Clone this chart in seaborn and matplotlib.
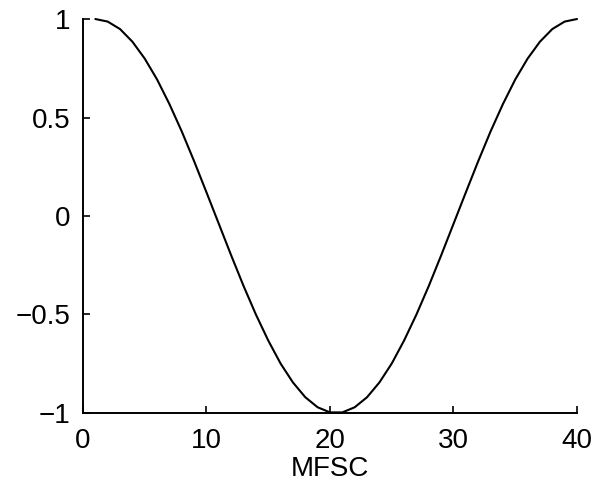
import matplotlib
matplotlib.use("Agg")
import matplotlib.pyplot as plt
import seaborn as sns
import pandas as pd

# DCT basis values, one per MFSC channel (1..40)
channels = list(range(1, 41))
first_half = [1.00, 0.987, 0.949, 0.885, 0.799, 0.693, 0.568, 0.429, 0.278, 0.120,
              -0.040, -0.200, -0.355, -0.500, -0.632, -0.749, -0.845, -0.920, -0.971, -0.997]
values = first_half + first_half[::-1]

x_ticks = [0, 10, 20, 30, 40]
y_ticks = [-1, -0.5, 0, 0.5, 1]
y_tick_labels = ["\u22121", "\u22120.5", "0", "0.5", "1"]

df = pd.DataFrame({"MFSC": channels, "value": values})

sns.set_style("white")
plt.rcParams["font.family"] = ["Liberation Sans", "DejaVu Sans"]

fig = plt.figure(figsize=(5.97, 4.94), dpi=100)
ax = fig.add_axes([0.139, 0.164, 0.8275, 0.7975])

sns.lineplot(data=df, x="MFSC", y="value", color="black", linewidth=1.5, ax=ax,
             clip_on=False)

ax.set_xlim(0, 40)
ax.set_ylim(-1, 1)
ax.set_xticks(x_ticks)
ax.set_xticklabels([str(t) for t in x_ticks])
ax.set_yticks(y_ticks)
ax.set_yticklabels(y_tick_labels)

sns.despine(ax=ax)
for side in ["left", "bottom"]:
    ax.spines[side].set_color("black")
    ax.spines[side].set_linewidth(1.4)

ax.tick_params(axis="both", direction="in", length=5, width=1.2, color="black",
               labelsize=20, labelcolor="black", bottom=True, left=True)
ax.tick_params(axis="y", pad=9)
ax.tick_params(axis="x", pad=11)
ax.set_xlabel("MFSC", fontsize=20, labelpad=1, color="black")
ax.set_ylabel("")

fig.savefig("out.png", dpi=100)
